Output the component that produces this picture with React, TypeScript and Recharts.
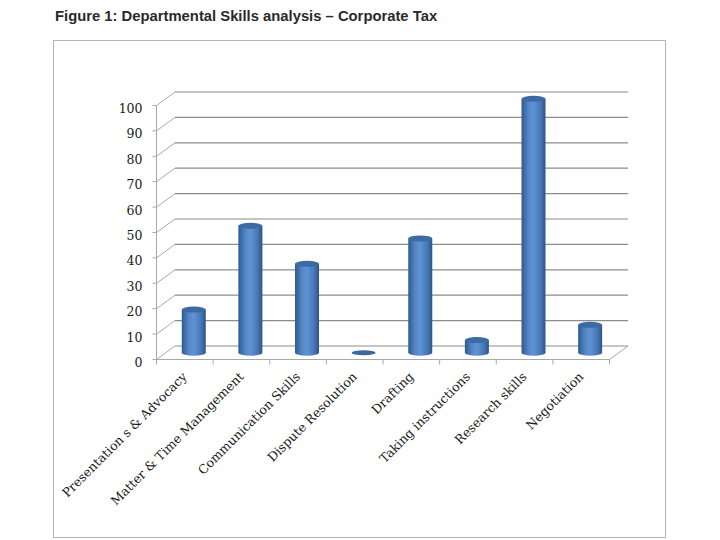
import { BarChart, Bar, XAxis, YAxis, CartesianGrid } from 'recharts';

const categories = [
  'Presentation s & Advocacy',
  'Matter & Time Management',
  'Communication Skills',
  'Dispute Resolution',
  'Drafting',
  'Taking instructions',
  'Research skills',
  'Negotiation',
];
const scores = [17, 50, 35, 0, 45, 5, 100, 11];
const yTicks = [0, 10, 20, 30, 40, 50, 60, 70, 80, 90, 100];

const data = categories.map((name, i) => ({ name, score: scores[i] }));

// back wall of the fake 3D box, and the shift to the front edge
const PLOT_LEFT = 175;
const PLOT_RIGHT = 628;
const PLOT_TOP = 92;
const PLOT_BOTTOM = 346;
const Y_AXIS_W = 60;
const X_AXIS_H = 30;
const DEPTH_X = -18.5;
const DEPTH_Y = 13.5;
const BAND = (PLOT_RIGHT - PLOT_LEFT) / categories.length;
const TICK_GAP = (PLOT_BOTTOM - PLOT_TOP) / (yTicks.length - 1);

const AXIS_GRAY = '#a8a8a8';
const SERIF = '"DejaVu Serif", serif';

function Cylinder(props: any) {
  const { x, y, width, height } = props;
  const rx = width / 2;
  const ry = 3;
  const cx = x + rx + DEPTH_X / 2;
  const top = y + DEPTH_Y / 2;
  const bottom = y + height + DEPTH_Y / 2;
  if (!height || height < 1) {
    return <ellipse cx={cx} cy={bottom} rx={rx} ry={2.5} fill="#3b68a0" />;
  }
  const d = `M${cx - rx},${top} L${cx - rx},${bottom} A${rx},${ry} 0 0 0 ${cx + rx},${bottom} L${cx + rx},${top} Z`;
  return (
    <g>
      <path d={d} fill="url(#cylBody)" />
      <ellipse cx={cx} cy={top} rx={rx} ry={ry} fill="#3d6aa3" />
    </g>
  );
}

function YTick(props: any) {
  const { y, payload } = props;
  const fx = PLOT_LEFT + DEPTH_X;
  const fy = y + DEPTH_Y;
  return (
    <g>
      <line x1={PLOT_LEFT} y1={y} x2={fx} y2={fy} stroke={AXIS_GRAY} />
      <line x1={fx - 4} y1={fy} x2={fx} y2={fy} stroke={AXIS_GRAY} />
      {payload.value > 0 && <line x1={fx} y1={fy} x2={fx} y2={fy + TICK_GAP} stroke={AXIS_GRAY} />}
      <text x={fx - 14} y={fy + 3} textAnchor="end" dominantBaseline="central" fontFamily={SERIF} fontSize={12.5} fill="#1a1a1a">
        {payload.value}
      </text>
    </g>
  );
}

function XTick(props: any) {
  const { x, payload, index } = props;
  const left = x - BAND / 2 + DEPTH_X;
  const right = x + BAND / 2 + DEPTH_X;
  const fy = PLOT_BOTTOM + DEPTH_Y;
  const last = index === categories.length - 1;
  return (
    <g>
      <line x1={left} y1={fy} x2={right} y2={fy} stroke={AXIS_GRAY} />
      <line x1={left} y1={fy} x2={left} y2={fy + 5} stroke={AXIS_GRAY} />
      {last && (
        <>
          <line x1={right} y1={fy} x2={right} y2={fy + 5} stroke={AXIS_GRAY} />
          <line x1={right - DEPTH_X} y1={PLOT_BOTTOM} x2={right} y2={fy} stroke={AXIS_GRAY} />
        </>
      )}
      <text
        transform={`translate(${x + DEPTH_X + 3},${fy + 18}) rotate(-45)`}
        textAnchor="end"
        fontFamily={SERIF}
        fontSize={12.5}
        fill="#1a1a1a"
      >
        {payload.value}
      </text>
    </g>
  );
}

export default function App() {
  return (
    <div style={{ position: 'absolute', left: 0, top: 0, width: 720, height: 540, background: '#fff' }}>
      <div
        style={{
          position: 'absolute',
          left: 55,
          top: 8,
          fontFamily: '"Liberation Sans", Arial, sans-serif',
          fontWeight: 'bold',
          fontSize: 14.8,
          color: '#2a2a2a',
        }}
      >
        Figure 1: Departmental Skills analysis – Corporate Tax
      </div>
      <div
        style={{
          position: 'absolute',
          left: 53,
          top: 40,
          width: 611,
          height: 496,
          border: '1px solid #b4b4b4',
        }}
      />
      <div style={{ position: 'absolute', left: 0, top: 0 }}>
        <BarChart
          width={720}
          height={540}
          data={data}
          margin={{
            top: PLOT_TOP,
            right: 720 - PLOT_RIGHT,
            bottom: 540 - PLOT_BOTTOM - X_AXIS_H,
            left: PLOT_LEFT - Y_AXIS_W,
          }}
        >
          <defs>
            <linearGradient id="cylBody" x1="0" y1="0" x2="1" y2="0">
              <stop offset="0%" stopColor="#2f5a8f" />
              <stop offset="30%" stopColor="#5587c8" />
              <stop offset="50%" stopColor="#5f93d4" />
              <stop offset="80%" stopColor="#4677b6" />
              <stop offset="100%" stopColor="#2d5487" />
            </linearGradient>
          </defs>
          <CartesianGrid vertical={false} stroke="#8c8c8c" strokeWidth={1.2} />
          <XAxis
            dataKey="name"
            height={X_AXIS_H}
            interval={0}
            axisLine={false}
            tickLine={false}
            tick={<XTick />}
          />
          <YAxis
            width={Y_AXIS_W}
            domain={[0, 100]}
            ticks={yTicks}
            interval={0}
            axisLine={false}
            tickLine={false}
            tick={<YTick />}
          />
          <Bar dataKey="score" barSize={24} shape={<Cylinder />} isAnimationActive={false} />
        </BarChart>
      </div>
    </div>
  );
}
